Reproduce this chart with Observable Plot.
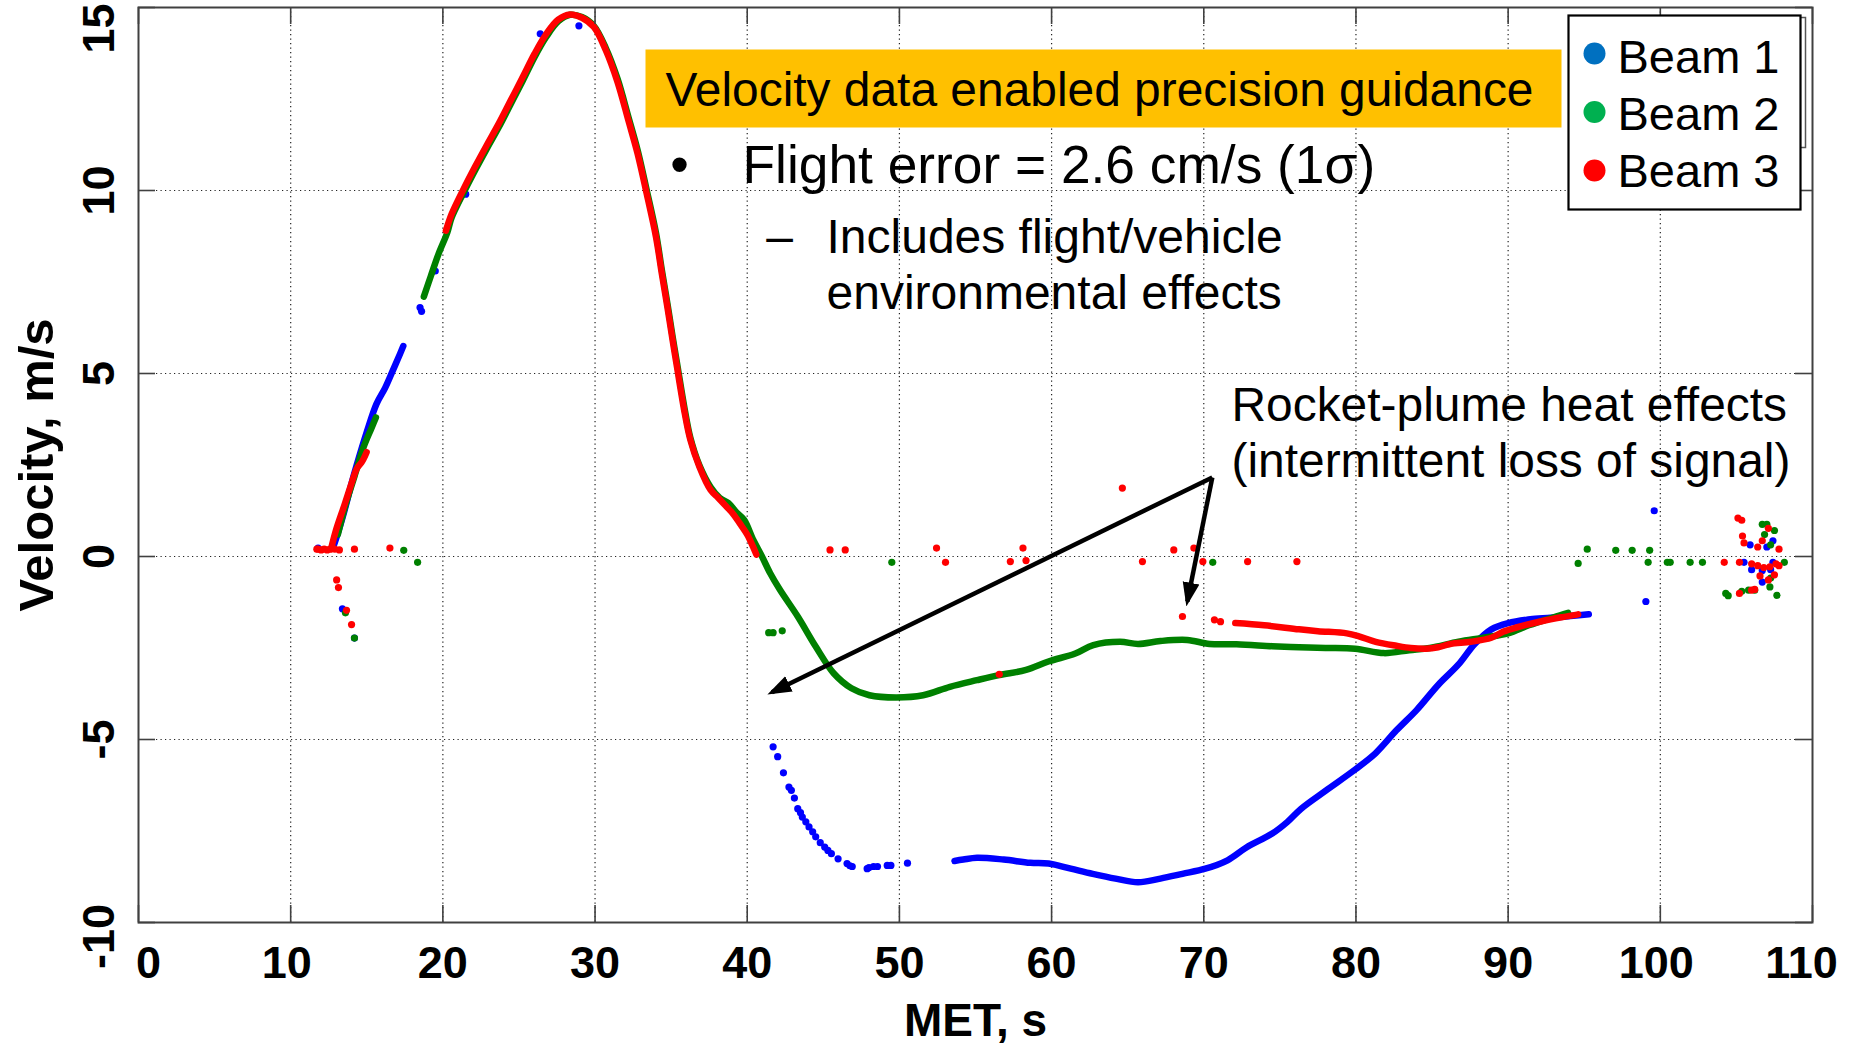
<!DOCTYPE html>
<html><head><meta charset="utf-8">
<script src="https://cdn.jsdelivr.net/npm/d3@7"></script>
<script src="https://cdn.jsdelivr.net/npm/@observablehq/plot@0.6"></script>
<style>
html,body{margin:0;padding:0;background:#fff;}
#chart{width:1851px;height:1047px;}
</style></head><body><div id="chart"></div>
<script>
// ---------- axis ticks ----------
const xTicks = [0,10,20,30,40,50,60,70,80,90,100,110];
const yTicks = [-10,-5,0,5,10,15];
const xLabel = "MET, s";
const yLabel = "Velocity, m/s";

// ---------- series ----------
const seriesNames = ["Beam 1","Beam 2","Beam 3"];
const seriesColors = ["#0000FF","#008000","#FF0000"];
const legendColors = ["#0070C0","#00B050","#FF0000"];

// Beam 1 (blue) continuous traces [MET s, velocity m/s]
const beam1Rise = [[12.8,0.26],[13.04,0.56],[13.5,1.2],[14.0,2.0],[14.34,2.5],[15.0,3.4],[15.64,4.17],[16.2,4.6],[16.68,5.05],[17.19,5.54],[17.4,5.75]];
const beam1Late = [[53.62,-8.32],[54.2,-8.28],[55.1,-8.23],[56.85,-8.28],[58.6,-8.37],[59.8,-8.39],[61.26,-8.53],[62.7,-8.67],[64.2,-8.8],[65.68,-8.9],[67.15,-8.8],[68.6,-8.67],[70.1,-8.53],[71.56,-8.3],[72.8,-7.95],[74.5,-7.57],[75.5,-7.25],[76.4,-6.89],[78.04,-6.39],[79.95,-5.82],[81.3,-5.37],[82.66,-4.75],[84.0,-4.19],[85.4,-3.51],[86.74,-2.95],[87.8,-2.39],[88.9,-1.99],[90.0,-1.82],[91.6,-1.71],[93.26,-1.66],[95.3,-1.58]];
// Beam 1 scattered samples
const beam1Points = [[11.8,0.23],[13.4,-1.43],[14.19,-2.23],[18.5,6.8],[18.6,6.7],[19.5,7.8],[21.5,9.9],[26.4,14.28],[28.94,14.5],
  [41.7,-5.2],[42.0,-5.47],[42.38,-5.91],[42.74,-6.3],[42.9,-6.39],[43.1,-6.6],[43.32,-6.89],[43.5,-7.0],[43.62,-7.12],[43.85,-7.25],[44.06,-7.39],[44.3,-7.52],[44.5,-7.66],[44.8,-7.82],[45.09,-7.94],[45.3,-8.03],[45.53,-8.12],[45.97,-8.26],[46.56,-8.39],[46.75,-8.45],[46.9,-8.47],[47.88,-8.53],[48.0,-8.5],[48.3,-8.47],[48.56,-8.47],[49.2,-8.44],[49.44,-8.44],[50.53,-8.38],
  [99.6,1.25],[99.05,-1.23],[105.5,-0.16],[105.9,0.32],[107.4,0.43],[107.0,0.26],[106.0,-0.36],[106.7,-0.38],[107.4,-0.16],[106.7,-0.7],[107.25,-0.36]];

// Beam 2 (green)
const beam2Rise = [[13.1,0.6],[13.6,1.4],[14.2,2.2],[14.8,3.0],[15.3,3.5],[15.6,3.8]];
const beam2Main = [[18.75,7.1],[19.2,7.65],[19.7,8.25],[20.3,8.86],[20.57,9.25],[21.35,9.93],[22.13,10.56],[22.9,11.15],[23.69,11.74],[24.47,12.37],[25.25,13.0],[26.03,13.65],[26.8,14.2],[27.58,14.62],[28.36,14.8],[29.14,14.74],[29.92,14.5],[30.7,13.9],[31.48,13.05],[32.2,12.0],[32.8,11.1],[33.4,10.0],[34.0,8.85],[34.4,7.8],[34.76,6.9],[35.1,6.0],[35.38,5.3],[35.9,4.0],[36.26,3.25],[36.85,2.5],[37.59,1.9],[38.2,1.6],[38.76,1.46],[39.3,1.2],[39.8,1.0],[40.4,0.45],[40.97,0.0],[41.5,-0.45],[42.15,-0.91],[43.32,-1.64],[44.5,-2.46],[45.68,-3.19],[46.85,-3.6],[48.03,-3.79],[49.79,-3.85],[51.56,-3.79],[53.32,-3.56],[55.09,-3.38],[56.56,-3.24],[58.32,-3.1],[59.79,-2.87],[61.56,-2.65],[62.74,-2.42],[64.5,-2.33],[65.68,-2.39],[67.15,-2.31],[68.91,-2.28],[70.38,-2.39],[72.15,-2.4],[74.5,-2.45],[76.26,-2.48],[78.0,-2.5],[79.95,-2.52],[81.85,-2.64],[83.5,-2.56],[84.84,-2.5],[86.74,-2.33],[88.37,-2.22],[90.0,-2.1],[91.36,-1.88],[92.99,-1.66],[93.94,-1.54]];
const beam2Points = [[17.43,0.17],[18.34,-0.16],[13.6,-1.54],[14.19,-2.23],[41.41,-2.08],[41.7,-2.08],[42.3,-2.03],[49.5,-0.16],[70.59,-0.16],[94.6,-0.19],[95.2,0.2],[97.07,0.17],[98.15,0.17],[99.3,0.17],[99.2,-0.16],[100.46,-0.16],[100.65,-0.16],[101.96,-0.16],[102.77,-0.16],[104.3,-1.01],[104.46,-1.07],[105.35,-0.95],[105.8,-0.92],[106.2,-0.92],[106.7,0.88],[107.0,0.88],[107.5,0.71],[106.85,0.6],[107.25,0.32],[108.15,-0.16],[107.25,-0.59],[107.2,-0.83],[107.66,-1.06]];

// Beam 3 (red)
const beam3Rise = [[12.65,0.2],[13.0,0.75],[13.56,1.44],[14.0,2.0],[14.34,2.4],[14.7,2.6],[14.99,2.85]];
const beam3Main = [[20.2,8.9],[20.57,9.35],[21.35,10.03],[22.13,10.66],[22.9,11.25],[23.69,11.84],[24.47,12.47],[25.25,13.1],[26.03,13.74],[26.8,14.28],[27.58,14.67],[28.36,14.81],[29.14,14.72],[29.92,14.47],[30.7,13.84],[31.48,12.96],[32.2,11.9],[32.8,11.0],[33.4,9.9],[34.0,8.74],[34.4,7.7],[34.76,6.8],[35.1,5.9],[35.38,5.19],[35.9,3.9],[36.26,3.19],[36.85,2.46],[37.59,1.82],[38.1,1.6],[38.62,1.37],[39.1,1.15],[39.5,0.91],[40.0,0.6],[40.38,0.27],[40.6,0.05]];
const beam3Late = [[72.07,-1.82],[73.97,-1.88],[76.26,-1.99],[77.5,-2.04],[79.4,-2.1],[80.2,-2.18],[81.3,-2.33],[82.66,-2.44],[83.6,-2.5],[84.6,-2.52],[85.4,-2.48],[86.2,-2.39],[87.55,-2.33],[88.9,-2.22],[89.7,-2.05],[90.54,-1.94],[92.2,-1.77],[93.5,-1.66],[94.6,-1.58]];
const beam3Points = [[11.72,0.2],[11.8,0.2],[12.0,0.18],[12.2,0.2],[12.4,0.18],[12.6,0.2],[12.9,0.2],[13.2,0.18],[14.19,0.2],[16.52,0.23],[13.02,-0.64],[13.14,-0.85],[13.67,-1.47],[14.0,-1.86],
  [45.44,0.18],[46.44,0.18],[52.44,0.23],[53.03,-0.16],[56.56,-3.22],[57.29,-0.14],[58.12,0.23],[58.32,-0.11],[64.65,1.87],[65.97,-0.14],[68.03,0.18],[68.6,-1.64],[69.35,0.23],[69.94,-0.14],[70.7,-1.73],[71.1,-1.78],[72.88,-0.14],[76.12,-0.14],
  [104.2,-0.16],[105.1,1.05],[105.35,0.99],[105.2,-0.16],[105.2,-1.01],[105.4,0.56],[105.5,0.37],[106.4,0.26],[106.7,0.43],[107.1,0.77],[107.8,0.2],[106.0,-0.2],[106.4,-0.25],[106.8,-0.3],[107.2,-0.28],[107.6,-0.2],[107.8,-0.25],[106.55,-0.53],[107.1,-0.64],[106.0,-0.92],[106.2,-0.9],[107.5,-0.5]];

// ---------- annotations ----------
const boxTitle = "Velocity data enabled precision guidance";
const bulletText = "Flight error = 2.6 cm/s (1σ)";
const subBulletLines = ["Includes flight/vehicle","environmental effects"];
const calloutLines = ["Rocket-plume heat effects","(intermittent loss of signal)"];
// arrow: start (MET, vel) -> end (MET, vel)
const arrowLinks = [
  {t1:70.56, v1:2.16, t2:41.62, v2:-3.71},
  {t1:70.56, v1:2.16, t2:68.92, v2:-1.23}
];

// ---------- build tables ----------
const rows = (pts, seg, beam) => pts.map(([t, v]) => ({t, v, seg, beam}));
const lines = [
  [beam1Rise, beam1Late],
  [beam2Rise, beam2Main],
  [beam3Rise, beam3Main, beam3Late]
];
const points = [beam1Points, beam2Points, beam3Points];

const FONT = '"Liberation Sans", Arial, Helvetica, sans-serif';
const W = 1851, H = 1047;
const mL = 138, mR = 39, mT = 7, mB = 125;
const fw = W - mL - mR, fh = H - mT - mB;
const tickLen = 17;
const axisColor = "#404040";

const marks = [];
// grid
marks.push(Plot.ruleX(xTicks.slice(1, -1), {x: d => d, stroke: "#222", strokeWidth: 1.2, strokeDasharray: "1.2,3.3"}));
marks.push(Plot.ruleY(yTicks.slice(1, -1), {y: d => d, stroke: "#222", strokeWidth: 1.2, strokeDasharray: "1.2,3.3"}));
// data
lines.forEach((segs, i) => {
  const data = segs.flatMap((s, j) => rows(s, j, seriesNames[i]));
  marks.push(Plot.line(data, {x: "t", y: "v", z: "seg", curve: "catmull-rom", stroke: seriesColors[i], strokeWidth: 6.5, strokeLinecap: "round", strokeLinejoin: "round"}));
  marks.push(Plot.dot(rows(points[i], -1, seriesNames[i]), {x: "t", y: "v", fill: seriesColors[i], r: 3.6}));
});
// inward tick marks on all four sides
marks.push(Plot.ruleX(xTicks, {x: d => d, insetTop: fh - tickLen, stroke: axisColor, strokeWidth: 1.6}));
marks.push(Plot.ruleX(xTicks, {x: d => d, insetBottom: fh - tickLen, stroke: axisColor, strokeWidth: 1.6}));
marks.push(Plot.ruleY(yTicks, {y: d => d, insetRight: fw - tickLen, stroke: axisColor, strokeWidth: 1.6}));
marks.push(Plot.ruleY(yTicks, {y: d => d, insetLeft: fw - tickLen, stroke: axisColor, strokeWidth: 1.6}));
marks.push(Plot.frame({stroke: axisColor, strokeWidth: 2}));

// tick labels
const tickFont = {fontSize: 45, fontWeight: "bold", fill: "black", fontFamily: FONT};
const xLabelShift = {0: 10, 10: -4, 100: -4, 110: -11};
xTicks.forEach(tk => {
  marks.push(Plot.text([tk], {x: d => d, text: d => String(d), frameAnchor: "bottom", lineAnchor: "top", dy: 24, dx: xLabelShift[tk] || 0, ...tickFont}));
});
marks.push(Plot.text(yTicks.slice(1, -1), {y: d => d, text: d => String(d), frameAnchor: "left", rotate: -90, textAnchor: "middle", lineAnchor: "bottom", dx: -25, ...tickFont}));
marks.push(Plot.text(yTicks.slice(0, 1), {y: d => d, text: d => String(d), frameAnchor: "left", rotate: -90, textAnchor: "middle", lineAnchor: "bottom", dx: -25, dy: 14, ...tickFont}));
marks.push(Plot.text(yTicks.slice(-1), {y: d => d, text: d => String(d), frameAnchor: "left", rotate: -90, textAnchor: "middle", lineAnchor: "bottom", dx: -25, dy: 21, ...tickFont}));
// axis titles
marks.push(Plot.text([xLabel], {text: d => d, frameAnchor: "bottom", lineAnchor: "bottom", dy: 113, fontSize: 46, fontWeight: "bold", fill: "black", fontFamily: FONT}));
marks.push(Plot.text([yLabel], {text: d => d, frameAnchor: "left", rotate: -90, textAnchor: "middle", lineAnchor: "bottom", dx: -86, fontSize: 49, fontWeight: "bold", fill: "black", fontFamily: FONT}));

// orange highlight box
marks.push(Plot.frame({fill: "#FFC000", stroke: "none", insetLeft: 645 - mL, insetTop: 49 - mT, insetRight: (W - mR) - 1561, insetBottom: (H - mB) - 127}));
const txt = (s, dx, dy, size, extra = {}) => Plot.text([s], {text: d => d, frameAnchor: "top-left", textAnchor: "start", lineAnchor: "bottom", dx: dx - mL, dy: dy - mT, fontSize: size, fill: "black", fontFamily: FONT, ...extra});
marks.push(txt(boxTitle, 665, 105, 47.9));
marks.push(txt("•", 679, 182, 53, {textAnchor: "middle"}));
marks.push(txt(bulletText, 742, 182, 53.3));
marks.push(txt("–", 779, 252, 48, {textAnchor: "middle"}));
marks.push(txt(subBulletLines[0], 826, 252, 48));
marks.push(txt(subBulletLines[1], 826, 308, 48));
marks.push(txt(calloutLines[0], 1231, 420, 47.9));
marks.push(txt(calloutLines[1], 1231, 476, 47.9));
// arrows
marks.push(Plot.link(arrowLinks, {x1: "t1", y1: "v1", x2: "t2", y2: "v2", stroke: "black", strokeWidth: 4.5, strokeLinecap: "butt"}));

// legend
marks.push(Plot.frame({stroke: "#555", strokeWidth: 1.5, fill: "none", insetLeft: 1570 - mL, insetTop: 17 - mT, insetRight: (W - mR) - 1805, insetBottom: (H - mB) - 147}));
marks.push(Plot.frame({stroke: "black", strokeWidth: 2.2, fill: "white", insetLeft: 1568 - mL, insetTop: 15 - mT, insetRight: (W - mR) - 1800, insetBottom: (H - mB) - 209}));
seriesNames.forEach((name, i) => {
  marks.push(Plot.dot([name], {frameAnchor: "top-left", dx: 1594 - mL, dy: 53 + i * 58.5 - mT, r: 11, fill: legendColors[i]}));
  marks.push(txt(name, 1617, 72 + i * 57, 47));
});

const chart = Plot.plot({
  width: W, height: H,
  marginLeft: mL, marginRight: mR, marginTop: mT, marginBottom: mB,
  x: {domain: [0, 110], axis: null},
  y: {domain: [-10, 15], axis: null},
  style: {fontFamily: FONT, background: "white", color: "black"},
  marks
});
document.getElementById("chart").appendChild(chart);

// filled arrowheads on the callout links
const svg = chart.tagName.toLowerCase() === "svg" ? chart : chart.querySelector("svg");
const NS = "http://www.w3.org/2000/svg";
const defs = document.createElementNS(NS, "defs");
const marker = document.createElementNS(NS, "marker");
marker.setAttribute("id", "ahead");
marker.setAttribute("viewBox", "-24 -9 24 18");
marker.setAttribute("markerWidth", "24");
marker.setAttribute("markerHeight", "18");
marker.setAttribute("markerUnits", "userSpaceOnUse");
marker.setAttribute("orient", "auto");
marker.setAttribute("refX", "-5");
marker.setAttribute("refY", "0");
const mp = document.createElementNS(NS, "path");
mp.setAttribute("d", "M-24,-8.5L0,0L-24,8.5Z");
mp.setAttribute("fill", "black");
marker.appendChild(mp);
defs.appendChild(marker);
svg.insertBefore(defs, svg.firstChild);
svg.querySelectorAll('g[aria-label="link"] path, g[aria-label="link"] line').forEach(p => p.setAttribute("marker-end", "url(#ahead)"));
</script></body></html>
